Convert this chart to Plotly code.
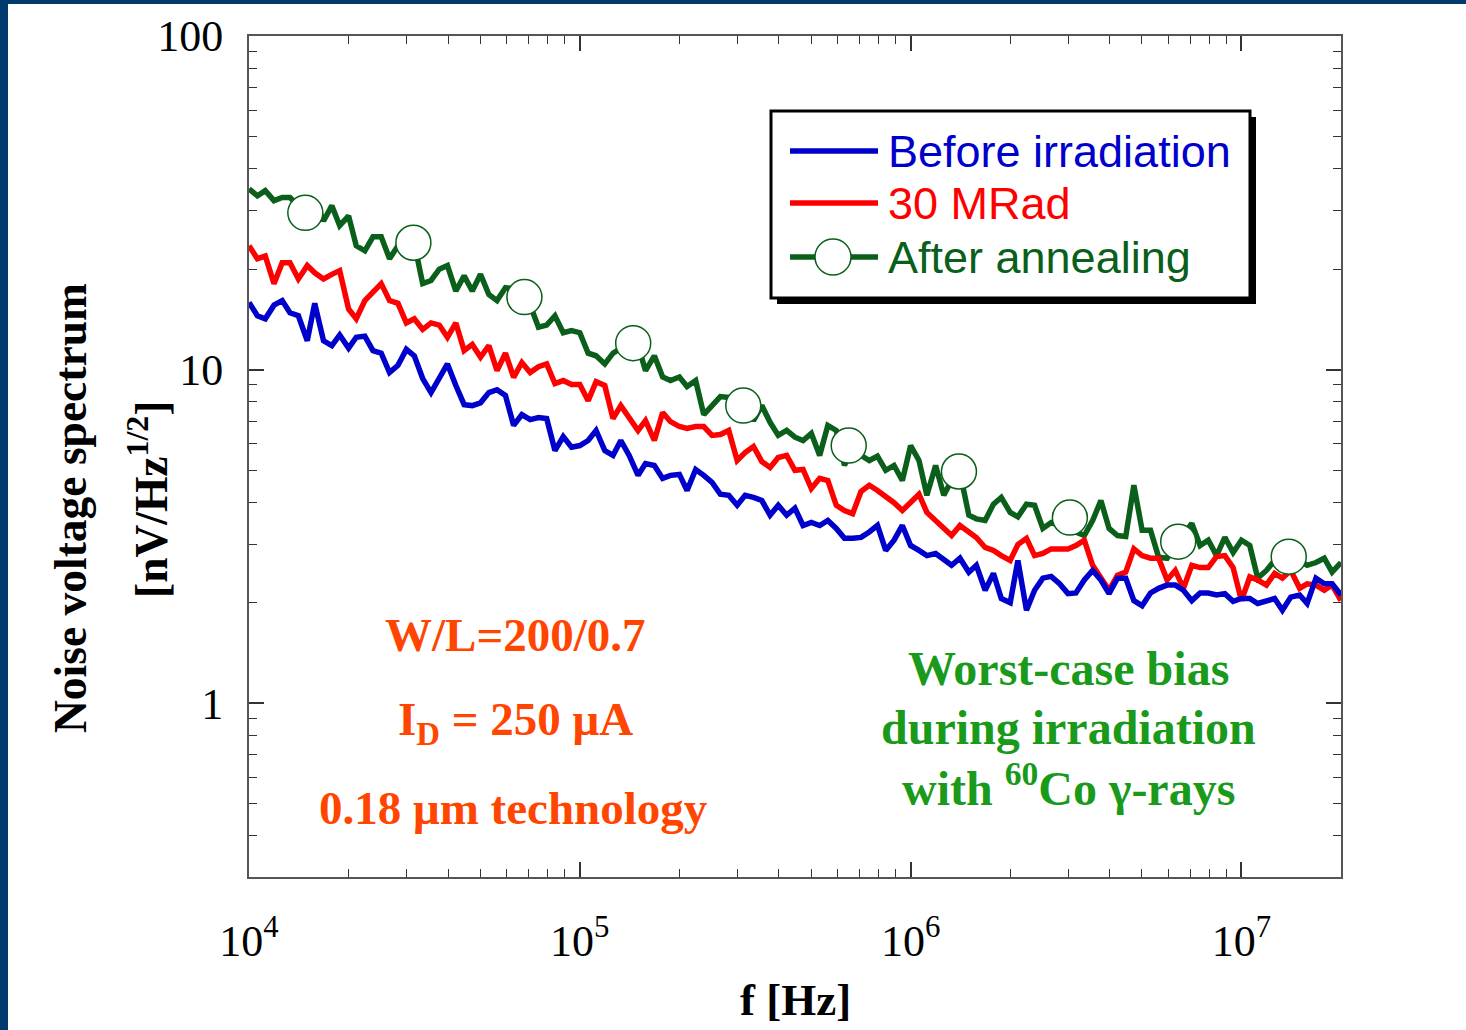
import plotly.graph_objects as go

# ---------------- data ----------------
freq = [
    1.00e4, 1.06e4, 1.12e4, 1.19e4, 1.26e4, 1.33e4, 1.41e4, 1.50e4, 1.58e4, 1.68e4,
    1.78e4, 1.88e4, 2.00e4, 2.11e4, 2.24e4, 2.37e4, 2.51e4, 2.66e4, 2.82e4, 2.99e4,
    3.16e4, 3.35e4, 3.55e4, 3.76e4, 3.98e4, 4.22e4, 4.47e4, 4.73e4, 5.01e4, 5.31e4,
    5.62e4, 5.96e4, 6.31e4, 6.68e4, 7.08e4, 7.50e4, 7.94e4, 8.41e4, 8.91e4, 9.44e4,
    1.00e5, 1.06e5, 1.12e5, 1.19e5, 1.26e5, 1.33e5, 1.41e5, 1.50e5, 1.58e5, 1.68e5,
    1.78e5, 1.88e5, 2.00e5, 2.11e5, 2.24e5, 2.37e5, 2.51e5, 2.66e5, 2.82e5, 2.99e5,
    3.16e5, 3.35e5, 3.55e5, 3.76e5, 3.98e5, 4.22e5, 4.47e5, 4.73e5, 5.01e5, 5.31e5,
    5.62e5, 5.96e5, 6.31e5, 6.68e5, 7.08e5, 7.50e5, 7.94e5, 8.41e5, 8.91e5, 9.44e5,
    1.00e6, 1.06e6, 1.12e6, 1.19e6, 1.26e6, 1.33e6, 1.41e6, 1.50e6, 1.58e6, 1.68e6,
    1.78e6, 1.88e6, 2.00e6, 2.11e6, 2.24e6, 2.37e6, 2.51e6, 2.66e6, 2.82e6, 2.99e6,
    3.16e6, 3.35e6, 3.55e6, 3.76e6, 3.98e6, 4.22e6, 4.47e6, 4.73e6, 5.01e6, 5.31e6,
    5.62e6, 5.96e6, 6.31e6, 6.68e6, 7.08e6, 7.50e6, 7.94e6, 8.41e6, 8.91e6, 9.44e6,
    1.00e7, 1.06e7, 1.12e7, 1.19e7, 1.26e7, 1.33e7, 1.41e7, 1.50e7, 1.58e7, 1.68e7,
    1.78e7, 1.88e7, 2.00e7,
]

before_irradiation = [
    15.9, 14.5, 14.2, 15.6, 16.1, 14.8, 14.5, 12.2, 15.8, 12.2,
    11.8, 12.7, 11.6, 12.5, 12.6, 11.4, 11.2, 9.8, 10.3, 11.5,
    11.0, 9.4, 8.53, 9.47, 10.4, 8.96, 7.85, 7.8, 7.95, 8.53,
    8.7, 8.36, 6.8, 7.33, 7.08, 7.18, 7.13, 5.72, 6.3, 5.85,
    5.92, 6.13, 6.57, 5.72, 5.53, 6.13, 5.53, 4.82, 5.23, 5.16,
    4.72, 4.82, 4.85, 4.34, 5.02, 4.82, 4.59, 4.23, 4.2, 3.92,
    4.2, 4.14, 4.05, 3.66, 3.92, 3.66, 3.84, 3.41, 3.48, 3.41,
    3.53, 3.34, 3.12, 3.12, 3.14, 3.26, 3.41, 2.87, 3.08, 3.41,
    2.97, 2.87, 2.77, 2.81, 2.68, 2.59, 2.72, 2.47, 2.59, 2.18,
    2.45, 2.06, 2.0, 2.68, 1.9, 2.18, 2.37, 2.4, 2.28, 2.13,
    2.14, 2.34, 2.5, 2.34, 2.13, 2.37, 2.37, 2.03, 1.96, 2.14,
    2.21, 2.26, 2.26, 2.18, 2.03, 2.14, 2.14, 2.11, 2.13, 2.02,
    2.06, 2.06, 1.99, 2.02, 2.06, 1.9, 2.08, 2.11, 1.99, 2.37,
    2.28, 2.28, 2.11,
]

mrad_30 = [
    23.5, 21.5, 21.9, 18.1, 20.9, 20.9, 18.7, 20.5, 19.5, 18.7,
    19.3, 19.8, 15.2, 14.2, 16.1, 17.0, 18.1, 16.1, 15.8, 13.8,
    14.2, 13.2, 13.8, 13.6, 12.5, 13.8, 11.4, 11.9, 10.9, 11.8,
    9.93, 11.2, 9.47, 10.5, 9.8, 10.2, 10.4, 9.08, 9.27, 9.02,
    9.02, 8.07, 9.2, 8.96, 7.13, 7.8, 7.23, 6.57, 7.03, 6.13,
    7.44, 6.98, 6.75, 6.66, 6.75, 6.75, 6.35, 6.39, 6.57, 5.34,
    5.64, 5.88, 5.3, 5.09, 5.45, 5.53, 4.99, 5.02, 4.4, 4.72,
    4.65, 3.92, 3.78, 3.7, 4.31, 4.5, 4.34, 4.17, 3.99, 3.78,
    3.99, 4.23, 3.73, 3.53, 3.37, 3.18, 3.41, 3.27, 3.14, 2.93,
    2.87, 2.77, 2.68, 2.99, 3.12, 2.77, 2.81, 2.9, 2.9, 2.9,
    2.97, 3.08, 2.59, 2.39, 2.18, 2.42, 2.47, 2.9, 2.77, 2.72,
    2.72, 2.34, 2.5, 2.21, 2.59, 2.55, 2.55, 2.75, 2.77, 2.55,
    2.03, 2.39, 2.34, 2.26, 2.45, 2.37, 2.5, 2.21, 2.28, 2.26,
    2.18, 2.26, 2.03,
]

after_annealing = [
    34.8, 33.2, 34.4, 32.1, 32.8, 32.8, 31.0, 29.5, 32.1, 27.9,
    31.0, 27.0, 28.9, 23.5, 22.7, 25.0, 25.0, 21.5, 23.5, 24.0,
    23.9, 18.1, 18.5, 20.0, 20.5, 17.2, 19.1, 17.2, 19.3, 16.8,
    16.1, 17.6, 17.5, 16.5, 15.6, 13.4, 13.6, 14.5, 12.9, 13.1,
    12.9, 11.2, 11.0, 10.4, 11.2, 11.6, 12.0, 11.8, 9.93, 11.0,
    9.5, 9.27, 9.5, 8.9, 9.27, 7.33, 7.8, 8.3, 8.25, 7.95,
    7.8, 7.03, 7.8, 6.95, 6.35, 6.57, 6.27, 6.13, 6.44, 5.53,
    6.8, 6.57, 5.16, 5.85, 5.53, 5.34, 5.5, 4.99, 5.16, 4.65,
    5.92, 5.34, 4.2, 5.16, 4.2, 4.65, 4.92, 3.66, 3.57, 3.53,
    3.95, 4.14, 3.73, 3.62, 3.95, 3.92, 3.34, 3.48, 3.41, 3.58,
    3.26, 3.18, 3.53, 4.05, 3.34, 3.18, 3.16, 4.5, 3.30, 3.30,
    2.74, 2.72, 2.97, 3.18, 3.46, 2.97, 3.08, 2.77, 3.14, 2.83,
    3.08, 2.97, 2.37, 2.50, 2.68, 2.74, 2.74, 2.68, 2.59, 2.64,
    2.72, 2.47, 2.64,
]

marker_freq = [1.48e4, 3.14e4, 6.8e4, 1.45e5, 3.12e5, 6.5e5, 1.40e6, 3.03e6, 6.44e6, 1.39e7]
marker_val = [29.5, 24.0, 16.5, 12.0, 7.8, 5.92, 4.95, 3.6, 3.05, 2.75]

x_tick_vals = [1e4, 1e5, 1e6, 1e7]
x_tick_text = ["10<sup>4</sup>", "10<sup>5</sup>", "10<sup>6</sup>", "10<sup>7</sup>"]
y_tick_vals = [1, 10, 100]
y_tick_text = ["1", "10", "100"]

series_names = ["Before irradiation", "30 MRad", "After annealing"]

# ---------------- style ----------------
BLUE = "#0000CC"
RED = "#FF0000"
GREEN = "#0A5F1A"
ORANGE = "#FF4500"
TGREEN = "#1A9A1A"
NAVY = "#033A6E"
SERIF = "Liberation Serif, Times New Roman, serif"
SANS = "Liberation Sans, Arial, sans-serif"

W, H = 1466, 1030
L, R, T, B = 249, 1341, 36, 877


def px(x):
    return (x - L) / (R - L)


def py(y):
    return (B - y) / (B - T)


x_minor = [m * 10 ** d for d in range(4, 8) for m in range(2, 10) if m * 10 ** d <= 2e7]
y_minor = [m * 10 ** d for d in (-1, 0, 1) for m in range(2, 10) if m * 10 ** d >= 0.3]

LW = 5.5

fig = go.Figure()
fig.add_trace(go.Scatter(x=freq, y=after_annealing, mode="lines", name=series_names[2],
                         line=dict(color=GREEN, width=LW), showlegend=False))
fig.add_trace(go.Scatter(x=freq, y=mrad_30, mode="lines", name=series_names[1],
                         line=dict(color=RED, width=LW), showlegend=False))
fig.add_trace(go.Scatter(x=freq, y=before_irradiation, mode="lines", name=series_names[0],
                         line=dict(color=BLUE, width=LW), showlegend=False))
fig.add_trace(go.Scatter(x=marker_freq, y=marker_val, mode="markers", name=series_names[2],
                         marker=dict(size=35, color="white", line=dict(color=GREEN, width=1.5)),
                         showlegend=False))

axis_common = dict(
    type="log", showgrid=False, zeroline=False, showline=True, linecolor="#555555",
    linewidth=2, mirror="ticks", ticks="inside", ticklen=15, tickwidth=1.5,
    tickcolor="#333333", tickfont=dict(family=SERIF, size=44, color="black"),
)

fig.update_xaxes(**axis_common, range=[4, 7.30103], tickmode="array",
                 tickvals=x_tick_vals, ticktext=x_tick_text, ticklabelstandoff=24,
                 minor=dict(tickmode="array", tickvals=x_minor, ticks="inside",
                            ticklen=8, tickwidth=1.2, tickcolor="#333333", showgrid=False))
fig.update_yaxes(**axis_common, range=[-0.521, 2.0], tickmode="array",
                 tickvals=y_tick_vals, ticktext=y_tick_text, ticklabelstandoff=15,
                 minor=dict(tickmode="array", tickvals=y_minor, ticks="inside",
                            ticklen=8, tickwidth=1.2, tickcolor="#333333", showgrid=False))

shapes = []
# navy page border (top and left)
shapes.append(dict(type="rect", xref="paper", yref="paper", x0=px(-5), x1=px(8),
                   y0=py(1035), y1=py(-5), fillcolor=NAVY, line=dict(width=0), layer="above"))
shapes.append(dict(type="rect", xref="paper", yref="paper", x0=px(-5), x1=px(1470),
                   y0=py(4), y1=py(-5), fillcolor=NAVY, line=dict(width=0), layer="above"))
# legend box with shadow
shapes.append(dict(type="rect", xref="paper", yref="paper", x0=px(777), x1=px(1256),
                   y0=py(304), y1=py(117), fillcolor="black", line=dict(width=0), layer="above"))
shapes.append(dict(type="rect", xref="paper", yref="paper", x0=px(771), x1=px(1250),
                   y0=py(298), y1=py(111), fillcolor="white",
                   line=dict(color="black", width=3), layer="above"))
leg_rows = [(151, BLUE), (203, RED), (257, GREEN)]
for yy, col in leg_rows:
    shapes.append(dict(type="line", xref="paper", yref="paper", x0=px(790), x1=px(878),
                       y0=py(yy), y1=py(yy), line=dict(color=col, width=LW), layer="above"))
shapes.append(dict(type="circle", xref="paper", yref="paper", x0=px(815), x1=px(851),
                   y0=py(275), y1=py(239), fillcolor="white",
                   line=dict(color=GREEN, width=1.5), layer="above"))

annotations = []
for (yy, col), name in zip(leg_rows, series_names):
    annotations.append(dict(xref="paper", yref="paper", x=px(886), y=py(yy), text=name,
                            showarrow=False, xanchor="left", yanchor="middle",
                            font=dict(family=SANS, size=45, color=col)))

# axis titles
annotations.append(dict(xref="paper", yref="paper", x=px(70), y=py(508),
                        text="<b>Noise voltage spectrum</b>", textangle=-90, showarrow=False,
                        xanchor="center", yanchor="middle",
                        font=dict(family=SERIF, size=45.5, color="black")))
annotations.append(dict(xref="paper", yref="paper", x=px(148), y=py(500),
                        text="<b>[nV/Hz<sup>1/2</sup>]</b>", textangle=-90, showarrow=False,
                        xanchor="center", yanchor="middle",
                        font=dict(family=SERIF, size=45.5, color="black")))
annotations.append(dict(xref="paper", yref="paper", x=px(795), y=py(1000),
                        text="<b>f [Hz]</b>", showarrow=False,
                        xanchor="center", yanchor="middle",
                        font=dict(family=SERIF, size=45, color="black")))

# in-plot notes
for txt, cx, cy, col, fs in [
    ("<b>W/L=200/0.7</b>", 515, 635, ORANGE, 47),
    ("<b>I<sub>D</sub> = 250 μA</b>", 515, 722, ORANGE, 47),
    ("<b>0.18 μm technology</b>", 513, 808, ORANGE, 47),
    ("<b>Worst-case bias</b>", 1068, 668, TGREEN, 48),
    ("<b>during irradiation</b>", 1068, 727, TGREEN, 48),
    ("<b>with <sup>60</sup>Co γ-rays</b>", 1068, 785, TGREEN, 48),
]:
    annotations.append(dict(xref="paper", yref="paper", x=px(cx), y=py(cy), text=txt,
                            showarrow=False, xanchor="center", yanchor="middle",
                            font=dict(family=SERIF, size=fs, color=col)))

fig.update_layout(
    width=W, height=H,
    margin=dict(l=L, r=W - R, t=T, b=H - B, pad=0),
    paper_bgcolor="white", plot_bgcolor="white",
    showlegend=False,
    shapes=shapes, annotations=annotations,
)

fig.write_html("out.html", config={"displayModeBar": False},
               post_script="document.body.style.margin='0px';")
